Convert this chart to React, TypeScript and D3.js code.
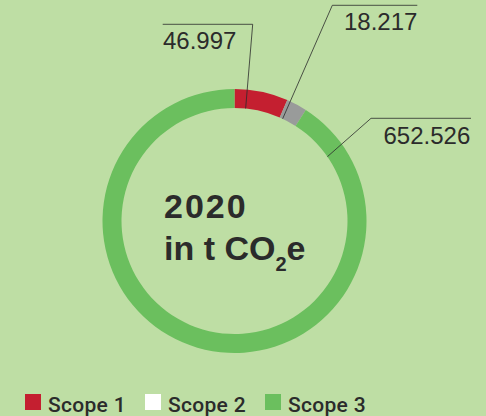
import React, { useEffect, useRef } from "react";
import * as d3 from "d3";

// chart data
const categories = ["Scope 1", "Scope 2", "Scope 3"];
const values = [46.997, 18.217, 652.526];
const valueLabels = ["46.997", "18.217", "652.526"];
const sliceColors = ["#c41f30", "#999b9a", "#6bbf5e"];
const legendColors = ["#c41f30", "#ffffff", "#6bbf5e"];

const W = 486, H = 416;
const BG = "#bedea4";
const TEXT = "#2b2b2b";

export default function App() {
  const ref = useRef<SVGSVGElement>(null);

  useEffect(() => {
    const svg = d3.select(ref.current);
    svg.selectAll("*").remove();

    const cx = 234.5, cy = 221;
    const outerR = 132, innerR = 113;

    svg.append("rect").attr("width", W).attr("height", H).attr("fill", BG);

    const pie = d3.pie<number>().sort(null).value((d) => d);
    const arcs = pie(values);
    const arc = d3.arc<d3.PieArcDatum<number>>().innerRadius(innerR).outerRadius(outerR);

    const g = svg.append("g").attr("transform", `translate(${cx},${cy})`);
    g.selectAll("path.slice")
      .data(arcs)
      .join("path")
      .attr("class", "slice")
      .attr("d", arc)
      .attr("fill", (d, i) => sliceColors[i]);

    // leader lines: where on the slice the line starts (fraction of slice), elbow and end
    const labelLayout = [
      { frac: 0.24, elbow: [252.7, 24.3], endX: 162.7, tx: 163, ty: 49 },
      { frac: 0.18, elbow: [332.3, 5.3], endX: 417.3, tx: 344, ty: 30 },
      { frac: 0.069, elbow: [371, 118.3], endX: 471, tx: 383.5, ty: 143.5 },
    ];

    arcs.forEach((a, i) => {
      const L = labelLayout[i];
      const ang = a.startAngle + (a.endAngle - a.startAngle) * L.frac;
      const px = cx + Math.sin(ang) * innerR;
      const py = cy - Math.cos(ang) * innerR;
      svg.append("polyline")
        .attr("points", `${px},${py} ${L.elbow[0]},${L.elbow[1]} ${L.endX},${L.elbow[1]}`)
        .attr("fill", "none")
        .attr("stroke", "#2b2b2b")
        .attr("stroke-width", 0.8);
      svg.append("text")
        .attr("x", L.tx)
        .attr("y", L.ty)
        .attr("font-family", "Liberation Sans, Arial, sans-serif")
        .attr("font-size", 24)
        .attr("fill", TEXT)
        .text(valueLabels[i]);
    });

    // centre title
    svg.append("text")
      .attr("x", 164).attr("y", 218)
      .attr("font-family", "Liberation Sans, Arial, sans-serif")
      .attr("font-weight", "bold").attr("font-size", 34)
      .attr("letter-spacing", 2)
      .attr("fill", TEXT)
      .text("2020");
    const t2 = svg.append("text")
      .attr("x", 164).attr("y", 259.5)
      .attr("font-family", "Liberation Sans, Arial, sans-serif")
      .attr("font-weight", "bold").attr("font-size", 34)
      .attr("fill", TEXT);
    t2.append("tspan").text("in t CO");
    t2.append("tspan").attr("font-size", 20).attr("dy", 11).text("2");
    t2.append("tspan").attr("dy", -11).text("e");

    // legend
    const legendX = [25, 145, 265];
    const lg = svg.append("g");
    categories.forEach((c, i) => {
      lg.append("rect")
        .attr("x", legendX[i]).attr("y", 394)
        .attr("width", 16).attr("height", 16)
        .attr("fill", legendColors[i]);
      lg.append("text")
        .attr("x", legendX[i] + 23).attr("y", 411.5)
        .attr("font-family", "Roboto, Liberation Sans, Arial, sans-serif")
        .attr("font-weight", 500)
        .attr("font-size", 21)
        .attr("letter-spacing", 0.3)
        .attr("fill", TEXT)
        .text(c);
    });
  }, []);

  return (
    <svg ref={ref} width={W} height={H} style={{ position: "absolute", left: 0, top: 0, display: "block" }} />
  );
}
